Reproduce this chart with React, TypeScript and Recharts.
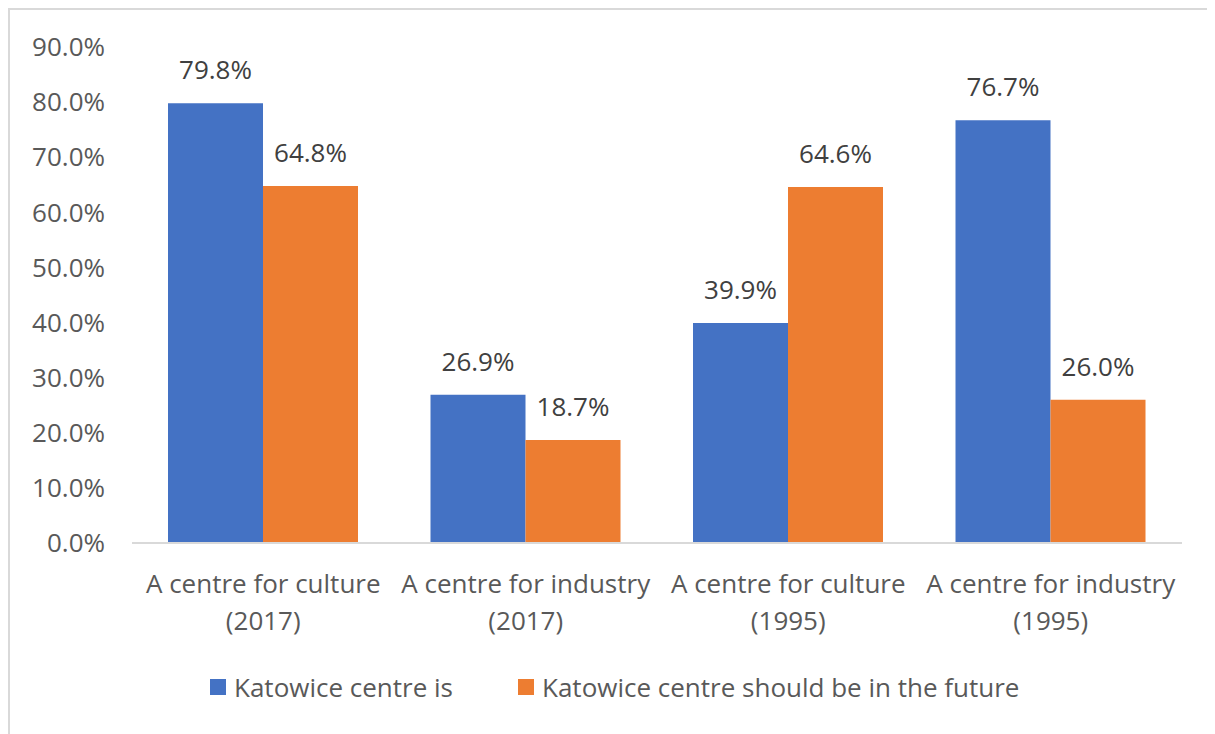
import { Bar, BarChart, XAxis, YAxis, Legend, LabelList } from "recharts";

const categories = [
  "A centre for culture (2017)",
  "A centre for industry (2017)",
  "A centre for culture (1995)",
  "A centre for industry (1995)",
];
const centreIs = [79.8, 26.9, 39.9, 76.7];
const shouldBe = [64.8, 18.7, 64.6, 26.0];
const yTicks = [0, 10, 20, 30, 40, 50, 60, 70, 80, 90];

const seriesNames = ["Katowice centre is", "Katowice centre should be in the future"];
const colors = ["#4472c4", "#ed7d31"];

const data = categories.map((c, i) => ({
  name: c,
  is: centreIs[i],
  future: shouldBe[i],
}));

const FONT = "'Open Sans', sans-serif";
const pct = (v: any) => Number(v).toFixed(1) + "%";

const CategoryTick = (props: any) => {
  const { x, y, payload } = props;
  const text: string = payload.value;
  const idx = text.indexOf(" (");
  const line1 = text.slice(0, idx);
  const line2 = text.slice(idx + 1);
  return (
    <text x={x} y={y} textAnchor="middle" fill="#595959" fontSize={26} fontFamily={FONT}>
      <tspan x={x} dy={42}>{line1}</tspan>
      <tspan x={x} dy={37}>{line2}</tspan>
    </text>
  );
};

const LegendContent = () => (
  <div style={{ display: "flex", alignItems: "center", height: 40, paddingLeft: 200, fontFamily: FONT, fontSize: 26, color: "#595959" }}>
    {seriesNames.map((n, i) => (
      <div key={n} style={{ display: "flex", alignItems: "center", marginRight: 65 }}>
        <span style={{ width: 16, height: 16, background: colors[i], display: "inline-block", marginRight: 8 }} />
        <span>{n}</span>
      </div>
    ))}
  </div>
);

const App = () => {
  return (
    <div style={{ width: 1205, height: 724, borderTop: "2px solid #d9d9d9", borderLeft: "2px solid #d9d9d9", background: "#fff" }}>
      <BarChart
        width={1205}
        height={724}
        data={data}
        margin={{ top: 37, right: 33, left: 0, bottom: 27 }}
        barCategoryGap={36}
        barGap={0}
      >
        <XAxis
          dataKey="name"
          height={124}
          tickLine={false}
          axisLine={{ stroke: "#d9d9d9", strokeWidth: 2 }}
          tick={<CategoryTick />}
          interval={0}
        />
        <YAxis
          width={122}
          domain={[0, 90]}
          ticks={yTicks}
          tickFormatter={pct}
          axisLine={false}
          tickLine={false}
          tickSize={0}
          tickMargin={27}
          tick={{ fill: "#595959", fontSize: 26, fontFamily: FONT }}
        />
        <Legend verticalAlign="bottom" height={40} content={<LegendContent />} />
        <Bar dataKey="is" name={seriesNames[0]} fill={colors[0]} isAnimationActive={false}>
          <LabelList dataKey="is" position="top" offset={24} formatter={pct} fill="#404040" fontSize={26} fontFamily={FONT} />
        </Bar>
        <Bar dataKey="future" name={seriesNames[1]} fill={colors[1]} isAnimationActive={false}>
          <LabelList dataKey="future" position="top" offset={24} formatter={pct} fill="#404040" fontSize={26} fontFamily={FONT} />
        </Bar>
      </BarChart>
    </div>
  );
};

export default App;
